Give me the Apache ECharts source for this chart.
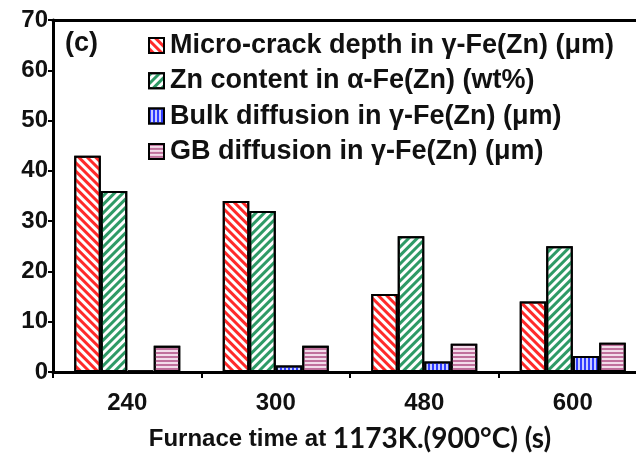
<!DOCTYPE html>
<html><head><meta charset="utf-8">
<script src="https://cdn.jsdelivr.net/npm/echarts@6/dist/echarts.min.js"></script>
<style>html,body{margin:0;padding:0;background:#fff;overflow:hidden}#c{width:660px;height:462px}</style>
</head><body><div id="c"></div>
<script>
const categories = ['240', '300', '480', '600'];
const seriesNames = ['Micro-crack depth in γ-Fe(Zn) (μm)', 'Zn content in α-Fe(Zn) (wt%)', 'Bulk diffusion in γ-Fe(Zn) (μm)', 'GB diffusion in γ-Fe(Zn) (μm)'];
const microCrack = [43, 34, 15.5, 14];
const znContent = [36, 32, 27, 25];
const bulkDiff = [0.3, 1.3, 2.1, 3.2];
const gbDiff = [5.2, 5.2, 5.6, 5.8];
const yTicks = [0, 10, 20, 30, 40, 50, 60, 70];

const chart = echarts.init(document.getElementById('c'), null, {renderer: 'canvas'});
const FONT = '"Liberation Sans", Arial, sans-serif';
function mk(name, data, fill, decal) {
  return {
    name: name, type: 'bar', data: data, barWidth: 26.5, barGap: '0%',
    itemStyle: {color: fill, borderColor: '#000', borderWidth: 2, decal: decal},
    emphasis: {disabled: true}
  };
}
const decRed = {symbol: 'rect', symbolSize: 1, color: '#ff2a2a', dashArrayX: [1, 0], dashArrayY: [3, 3], rotation: Math.PI / 4};
const decGreen = {symbol: 'rect', symbolSize: 1, color: '#2e9a66', dashArrayX: [1, 0], dashArrayY: [3, 3], rotation: -Math.PI / 4};
const decBlue = {symbol: 'rect', symbolSize: 1, color: '#2f3cff', dashArrayX: [2, 2], dashArrayY: [1, 0], rotation: 0};
const decPink = {symbol: 'rect', symbolSize: 1, color: '#c0709c', dashArrayX: [1, 0], dashArrayY: [2, 2], rotation: 0};

chart.setOption({
  animation: false,
  backgroundColor: '#fff',
  grid: {left: 53, top: 20, width: 594, bottom: 90, containLabel: false},
  legend: {
    orient: 'vertical', left: 143, top: 27, itemWidth: 15, itemHeight: 15, itemGap: 8.3,
    icon: 'rect', selectedMode: false,
    textStyle: {fontFamily: FONT, fontSize: 27, fontWeight: 'bold', color: '#111', padding: [0, 0, 0, 1]},
    data: seriesNames
  },
  graphic: [{type: 'text', left: 65, top: 30, style: {text: '(c)', font: 'bold 27px ' + FONT, fill: '#111'}}],
  xAxis: [{
    type: 'category', data: categories, position: 'bottom',
    axisLine: {lineStyle: {color: '#000', width: 3}},
    axisTick: {show: true, inside: false, length: 6, lineStyle: {color: '#000', width: 2}},
    axisLabel: {margin: 19, fontFamily: FONT, fontSize: 24, fontWeight: 'bold', color: '#111'},
    name: '{a|Furnace time at }{b|1173K.(900°C) (s)}', nameLocation: 'middle', nameGap: 53,
    nameTextStyle: {color: '#111', rich: {
      a: {fontFamily: FONT, fontSize: 24, fontWeight: 'bold', color: '#111'},
      b: {fontFamily: 'Lato, "Open Sans", sans-serif', fontSize: 28, fontWeight: 'bold', color: '#111'}
    }}
  }, {
    type: 'category', data: categories, position: 'top',
    axisLine: {lineStyle: {color: '#000', width: 3}}, axisTick: {show: false}, axisLabel: {show: false}
  }],
  yAxis: {
    type: 'value', min: 0, max: 70, interval: 10,
    axisLine: {show: true, lineStyle: {color: '#000', width: 3}},
    axisTick: {show: true, length: 5, lineStyle: {color: '#000', width: 2}},
    axisLabel: {margin: 5, fontFamily: FONT, fontSize: 24, fontWeight: 'bold', color: '#111',
      formatter: v => yTicks.includes(v) ? String(v) : ''},
    splitLine: {show: false}
  },
  series: [
    mk(seriesNames[0], microCrack, '#ffffff', decRed),
    mk(seriesNames[1], znContent, '#ffffff', decGreen),
    mk(seriesNames[2], bulkDiff, '#c8ccff', decBlue),
    mk(seriesNames[3], gbDiff, '#f3dcea', decPink)
  ]
});
</script></body></html>
